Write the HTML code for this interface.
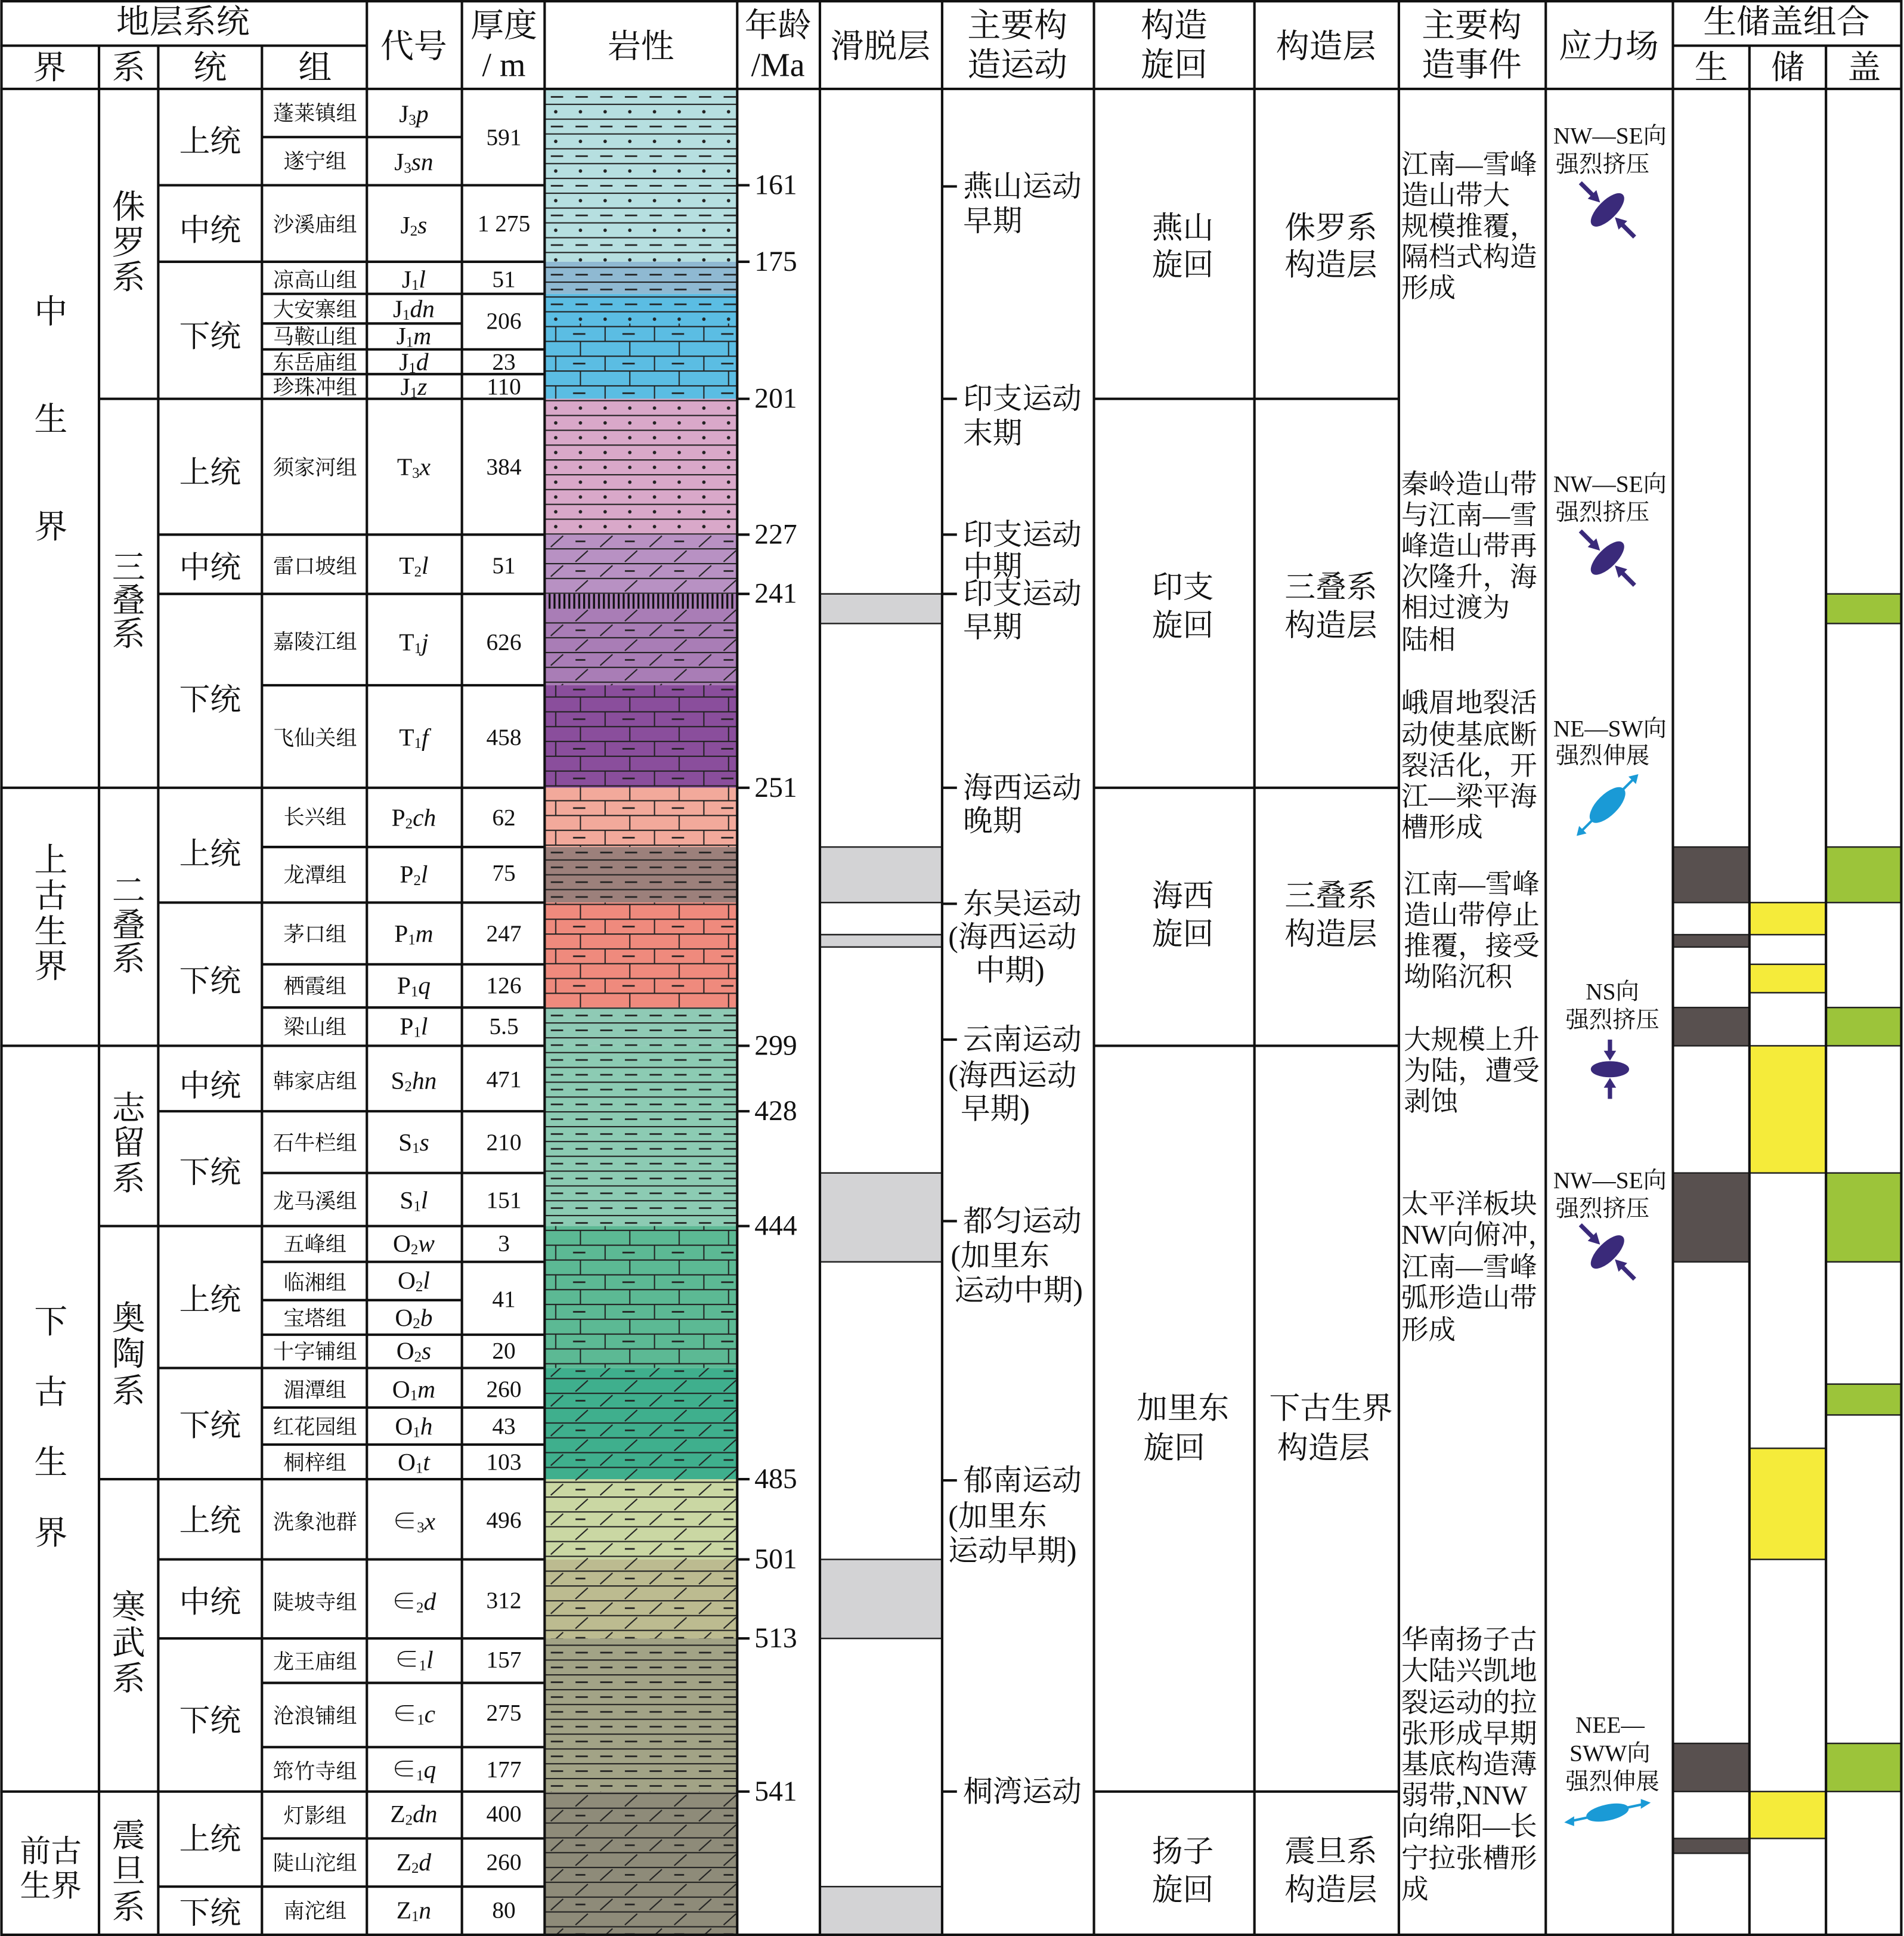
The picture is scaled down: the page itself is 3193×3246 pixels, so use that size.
<!DOCTYPE html>
<html><head><meta charset="utf-8"><style>
html,body{margin:0;padding:0;background:#fff}
svg{display:block}
text{font-family:"Liberation Serif","Noto Serif CJK SC","Noto Sans CJK SC",serif;fill:#111}
.h{font-size:27px;text-anchor:middle;dominant-baseline:central}
.t{font-size:25px;text-anchor:middle;dominant-baseline:central}
.f{font-size:17px;text-anchor:middle;dominant-baseline:central}
.c{font-size:20px;text-anchor:middle;dominant-baseline:central}
.n{font-size:19px;text-anchor:middle;dominant-baseline:central}
.a{font-size:23px;dominant-baseline:central}
.m{font-size:24px;dominant-baseline:central}
.e{font-size:22px;dominant-baseline:central}
.s{font-size:19px;text-anchor:middle;dominant-baseline:central}
.b{font-size:27px;text-anchor:middle;dominant-baseline:central}
</style></head><body>
<svg width="3193" height="3246" viewBox="0 0 1542 1568" xmlns="http://www.w3.org/2000/svg">
<defs>
<pattern id="pDash" width="40" height="12" patternUnits="userSpaceOnUse"><line x1="0" y1="0.5" x2="40" y2="0.5" stroke="#222" stroke-width="1"/><line x1="6" y1="6.5" x2="16" y2="6.5" stroke="#222" stroke-width="1.3"/><line x1="26" y1="6.5" x2="36" y2="6.5" stroke="#222" stroke-width="1.3"/></pattern>
<pattern id="pDot" width="40" height="12" patternUnits="userSpaceOnUse"><line x1="0" y1="0.5" x2="40" y2="0.5" stroke="#222" stroke-width="1"/><circle cx="10" cy="6.5" r="1.4" fill="#222"/><circle cx="30" cy="6.5" r="1.4" fill="#222"/></pattern>
<pattern id="pDashDot" width="40" height="24" patternUnits="userSpaceOnUse"><line x1="0" y1="0.5" x2="40" y2="0.5" stroke="#222"/><line x1="0" y1="12.5" x2="40" y2="12.5" stroke="#222"/><line x1="6" y1="6.5" x2="16" y2="6.5" stroke="#222" stroke-width="1.3"/><line x1="26" y1="6.5" x2="36" y2="6.5" stroke="#222" stroke-width="1.3"/><circle cx="10" cy="18.5" r="1.4" fill="#222"/><circle cx="30" cy="18.5" r="1.4" fill="#222"/></pattern>
<pattern id="pBrick" width="40" height="24" patternUnits="userSpaceOnUse"><line x1="0" y1="0.5" x2="40" y2="0.5" stroke="#222"/><line x1="0" y1="12.5" x2="40" y2="12.5" stroke="#222"/><line x1="10" y1="0" x2="10" y2="12" stroke="#222"/><line x1="30" y1="12" x2="30" y2="24" stroke="#222"/><line x1="24" y1="6.5" x2="34" y2="6.5" stroke="#222" stroke-width="1.3"/></pattern>
<pattern id="pDolo" width="40" height="24" patternUnits="userSpaceOnUse"><line x1="0" y1="0.5" x2="40" y2="0.5" stroke="#222"/><line x1="0" y1="12.5" x2="40" y2="12.5" stroke="#222"/><line x1="6" y1="11" x2="16" y2="2" stroke="#222"/><line x1="26" y1="23" x2="36" y2="14" stroke="#222"/><line x1="26" y1="6.5" x2="34" y2="6.5" stroke="#222" stroke-width="1.3"/></pattern>
<pattern id="pHatch" width="4" height="12" patternUnits="userSpaceOnUse"><line x1="1" y1="0" x2="1" y2="12" stroke="#111" stroke-width="1.6"/></pattern>
</defs>
<rect width="1542" height="1568" fill="#fff"/>

<g>
<rect x="441" y="72" width="156" height="140" fill="#b6dfe0"/><rect x="441" y="72" width="156" height="140" fill="url(#pDashDot)"/>
<rect x="441" y="212" width="156" height="26" fill="#8fb9d2"/><rect x="441" y="212" width="156" height="26" fill="url(#pDash)"/>
<rect x="441" y="238" width="156" height="85" fill="#5bbde3"/><rect x="441" y="238" width="156" height="24" fill="url(#pDashDot)"/><rect x="441" y="262" width="156" height="61" fill="url(#pBrick)"/>
<rect x="441" y="323" width="156" height="110" fill="#d9a8c9"/><rect x="441" y="323" width="156" height="110" fill="url(#pDot)"/>
<rect x="441" y="433" width="156" height="48" fill="#b891c3"/><rect x="441" y="433" width="156" height="48" fill="url(#pDolo)"/>
<rect x="441" y="481" width="156" height="12" fill="#a97db6"/><rect x="441" y="481" width="156" height="12" fill="url(#pHatch)"/>
<rect x="441" y="493" width="156" height="62" fill="#a97db6"/><rect x="441" y="493" width="156" height="62" fill="url(#pDolo)"/>
<rect x="441" y="555" width="156" height="83" fill="#8a4e9c"/><rect x="441" y="555" width="156" height="83" fill="url(#pBrick)"/>
<rect x="441" y="638" width="156" height="48" fill="#f2a99b"/><rect x="441" y="638" width="156" height="48" fill="url(#pBrick)"/>
<rect x="441" y="686" width="156" height="45" fill="#9c807b"/><rect x="441" y="686" width="156" height="45" fill="url(#pDash)"/>
<rect x="441" y="731" width="156" height="85" fill="#ef8a7d"/><rect x="441" y="731" width="156" height="85" fill="url(#pBrick)"/>
<rect x="441" y="816" width="156" height="31" fill="#8fcab5"/><rect x="441" y="816" width="156" height="31" fill="url(#pDash)"/>
<rect x="441" y="847" width="156" height="146" fill="#8ccbb3"/><rect x="441" y="847" width="156" height="146" fill="url(#pDash)"/>
<rect x="441" y="993" width="156" height="115" fill="#5cb994"/><rect x="441" y="993" width="156" height="115" fill="url(#pBrick)"/>
<rect x="441" y="1108" width="156" height="90" fill="#3faf8d"/><rect x="441" y="1108" width="156" height="90" fill="url(#pDolo)"/>
<rect x="441" y="1198" width="156" height="65" fill="#cad7a3"/><rect x="441" y="1198" width="156" height="65" fill="url(#pDolo)"/>
<rect x="441" y="1263" width="156" height="64" fill="#bcbb90"/><rect x="441" y="1263" width="156" height="64" fill="url(#pDolo)"/>
<rect x="441" y="1327" width="156" height="124" fill="#a2a386"/><rect x="441" y="1327" width="156" height="124" fill="url(#pDash)"/>
<rect x="441" y="1451" width="156" height="117" fill="#8e8b79"/><rect x="441" y="1451" width="156" height="117" fill="url(#pDolo)"/>
</g>

<g fill="#d3d3d5" stroke="#222" stroke-width="1.2">
<rect x="664" y="481" width="99" height="24"/>
<rect x="664" y="686" width="99" height="45"/>
<rect x="664" y="731" width="99" height="26" fill="#fff"/>
<rect x="664" y="757" width="99" height="10"/>
<rect x="664" y="950" width="99" height="72"/>
<rect x="664" y="1263" width="99" height="64"/>
<rect x="664" y="1528" width="99" height="40"/>
</g>

<g stroke="#222" stroke-width="1.2">
<g fill="#58504f">
<rect x="1355" y="686" width="62" height="45"/><rect x="1355" y="757" width="62" height="10"/><rect x="1355" y="816" width="62" height="31"/><rect x="1355" y="950" width="62" height="72"/><rect x="1355" y="1412" width="62" height="39"/><rect x="1355" y="1489" width="62" height="12"/>
</g>
<g fill="#f5eb3a">
<rect x="1417" y="731" width="62" height="26"/><rect x="1417" y="781" width="62" height="23"/><rect x="1417" y="847" width="62" height="103"/><rect x="1417" y="1173" width="62" height="90"/><rect x="1417" y="1451" width="62" height="38"/>
</g>
<g fill="#9cc43a">
<rect x="1479" y="481" width="61" height="24"/><rect x="1479" y="686" width="61" height="45"/><rect x="1479" y="816" width="61" height="31"/><rect x="1479" y="950" width="61" height="72"/><rect x="1479" y="1121" width="61" height="25"/><rect x="1479" y="1412" width="61" height="39"/>
</g>
</g>

<g stroke="#111" stroke-width="2" fill="none">
<rect x="1" y="1" width="1539" height="1566"/>
<line x1="0" y1="37" x2="297" y2="37"/><line x1="1355" y1="37" x2="1540" y2="37"/>
<line x1="0" y1="72" x2="1540" y2="72"/>
<line x1="80" y1="37" x2="80" y2="1568"/><line x1="128" y1="37" x2="128" y2="1568"/><line x1="212" y1="37" x2="212" y2="1568"/>
<line x1="297" y1="0" x2="297" y2="1568"/><line x1="374" y1="0" x2="374" y2="1568"/><line x1="441" y1="0" x2="441" y2="1568"/>
<line x1="597" y1="0" x2="597" y2="1568"/><line x1="664" y1="0" x2="664" y2="1568"/><line x1="763" y1="0" x2="763" y2="1568"/>
<line x1="886" y1="0" x2="886" y2="1568"/><line x1="1016" y1="0" x2="1016" y2="1568"/><line x1="1133" y1="0" x2="1133" y2="1568"/>
<line x1="1252" y1="0" x2="1252" y2="1568"/><line x1="1355" y1="0" x2="1355" y2="1568"/>
<line x1="1417" y1="37" x2="1417" y2="1568"/><line x1="1479" y1="37" x2="1479" y2="1568"/>
<line x1="0" y1="638" x2="80" y2="638"/><line x1="0" y1="847" x2="80" y2="847"/><line x1="0" y1="1451" x2="80" y2="1451"/>
<line x1="80" y1="323" x2="128" y2="323"/><line x1="80" y1="638" x2="128" y2="638"/><line x1="80" y1="847" x2="128" y2="847"/><line x1="80" y1="993" x2="128" y2="993"/><line x1="80" y1="1198" x2="128" y2="1198"/><line x1="80" y1="1451" x2="128" y2="1451"/>
<path d="M128 150H212M128 212H212M128 323H212M128 433H212M128 481H212M128 638H212M128 731H212M128 847H212M128 900H212M128 993H212M128 1108H212M128 1198H212M128 1263H212M128 1327H212M128 1451H212M128 1528H212"/>
<path d="M212 111H374M212 150H441M212 212H441M212 238H441M212 262H374M212 283H441M212 303H441M212 323H441M212 433H441M212 481H441M212 555H441M212 638H441M212 686H441M212 731H441M212 781H441M212 816H441M212 847H441M212 900H441M212 950H441M212 993H441M212 1022H441M212 1053H374M212 1081H441M212 1108H441M212 1140H441M212 1170H441M212 1198H441M212 1263H441M212 1327H441M212 1363H441M212 1415H441M212 1451H441M212 1489H441M212 1528H441"/>
<path d="M886 323H1133M886 638H1133M886 847H1133M886 1451H1133"/>
</g>
<g stroke="#111" stroke-width="2">
<path d="M597 150H607M597 212H607M597 323H607M597 433H607M597 481H607M597 638H607M597 847H607M597 900H607M597 993H607M597 1198H607M597 1263H607M597 1327H607M597 1451H607"/>
<path d="M763 151H775M763 323H775M763 433H775M763 481H775M763 638H775M763 732H775M763 842H775M763 989H775M763 1199H775M763 1451H775"/>
</g>

<text class="h" x="148" y="18">地层系统</text>
<text class="h" x="40" y="55">界</text><text class="h" x="104" y="55">系</text><text class="h" x="170" y="55">统</text><text class="h" x="255" y="55">组</text>
<text class="h" x="335" y="38">代号</text>
<text class="h" x="408" y="21">厚度</text><text class="h" x="408" y="53">/ m</text>
<text class="h" x="519" y="38">岩性</text>
<text class="h" x="630" y="21">年龄</text><text class="h" x="630" y="53">/Ma</text>
<text class="h" x="713" y="38">滑脱层</text>
<text class="h" x="824" y="21">主要构</text><text class="h" x="824" y="53">造运动</text>
<text class="h" x="951" y="21">构造</text><text class="h" x="951" y="53">旋回</text>
<text class="h" x="1074" y="38">构造层</text>
<text class="h" x="1192" y="21">主要构</text><text class="h" x="1192" y="53">造事件</text>
<text class="h" x="1303" y="38">应力场</text>
<text class="h" x="1447" y="18">生储盖组合</text>
<text class="h" x="1386" y="55">生</text><text class="h" x="1448" y="55">储</text><text class="h" x="1510" y="55">盖</text>

<text class="b" x="41" y="253">中</text><text class="b" x="41" y="340">生</text><text class="b" x="41" y="427">界</text>
<text class="b" x="41" y="697">上</text><text class="b" x="41" y="726">古</text><text class="b" x="41" y="755">生</text><text class="b" x="41" y="783">界</text>
<text class="b" x="41" y="1071">下</text><text class="b" x="41" y="1128">古</text><text class="b" x="41" y="1185">生</text><text class="b" x="41" y="1242">界</text>
<text class="t" x="41" y="1500">前古</text><text class="t" x="41" y="1528">生界</text>
<text class="b" x="104" y="168">侏</text><text class="b" x="104" y="197">罗</text><text class="b" x="104" y="225">系</text>
<text class="b" x="104" y="460">三</text><text class="b" x="104" y="487">叠</text><text class="b" x="104" y="514">系</text>
<text class="b" x="104" y="722">二</text><text class="b" x="104" y="750">叠</text><text class="b" x="104" y="777">系</text>
<text class="b" x="104" y="898">志</text><text class="b" x="104" y="926">留</text><text class="b" x="104" y="955">系</text>
<text class="b" x="104" y="1068">奥</text><text class="b" x="104" y="1097">陶</text><text class="b" x="104" y="1127">系</text>
<text class="b" x="104" y="1302">寒</text><text class="b" x="104" y="1331">武</text><text class="b" x="104" y="1360">系</text>
<text class="b" x="104" y="1487">震</text><text class="b" x="104" y="1516">旦</text><text class="b" x="104" y="1545">系</text>
<text class="t" x="170" y="115">上统</text><text class="t" x="170" y="187">中统</text><text class="t" x="170" y="273">下统</text>
<text class="t" x="170" y="383">上统</text><text class="t" x="170" y="460">中统</text><text class="t" x="170" y="567">下统</text>
<text class="t" x="170" y="692">上统</text><text class="t" x="170" y="795">下统</text>
<text class="t" x="170" y="880">中统</text><text class="t" x="170" y="950">下统</text>
<text class="t" x="170" y="1053">上统</text><text class="t" x="170" y="1155">下统</text>
<text class="t" x="170" y="1232">上统</text><text class="t" x="170" y="1298">中统</text><text class="t" x="170" y="1394">下统</text>
<text class="t" x="170" y="1490">上统</text><text class="t" x="170" y="1550">下统</text>

<text class="f" x="255" y="92">蓬莱镇组</text><text class="f" x="255" y="131">遂宁组</text><text class="f" x="255" y="182">沙溪庙组</text>
<text class="f" x="255" y="227">凉高山组</text><text class="f" x="255" y="251">大安寨组</text><text class="f" x="255" y="273">马鞍山组</text>
<text class="f" x="255" y="294">东岳庙组</text><text class="f" x="255" y="314">珍珠冲组</text><text class="f" x="255" y="379">须家河组</text>
<text class="f" x="255" y="459">雷口坡组</text><text class="f" x="255" y="520">嘉陵江组</text><text class="f" x="255" y="598">飞仙关组</text>
<text class="f" x="255" y="662">长兴组</text><text class="f" x="255" y="709">龙潭组</text><text class="f" x="255" y="757">茅口组</text>
<text class="f" x="255" y="799">栖霞组</text><text class="f" x="255" y="832">梁山组</text><text class="f" x="255" y="876">韩家店组</text>
<text class="f" x="255" y="926">石牛栏组</text><text class="f" x="255" y="973">龙马溪组</text><text class="f" x="255" y="1008">五峰组</text>
<text class="f" x="255" y="1039">临湘组</text><text class="f" x="255" y="1068">宝塔组</text><text class="f" x="255" y="1095">十字铺组</text>
<text class="f" x="255" y="1126">湄潭组</text><text class="f" x="255" y="1156">红花园组</text><text class="f" x="255" y="1185">桐梓组</text>
<text class="f" x="255" y="1233">洗象池群</text><text class="f" x="255" y="1298">陡坡寺组</text><text class="f" x="255" y="1346">龙王庙组</text>
<text class="f" x="255" y="1390">沧浪铺组</text><text class="f" x="255" y="1435">筇竹寺组</text><text class="f" x="255" y="1471">灯影组</text>
<text class="f" x="255" y="1509">陡山沱组</text><text class="f" x="255" y="1548">南沱组</text>

<g>
<text class="c" x="335" y="92">J<tspan font-size="12" dy="5">3</tspan><tspan dy="-5" font-style="italic">p</tspan></text>
<text class="c" x="335" y="131">J<tspan font-size="12" dy="5">3</tspan><tspan dy="-5" font-style="italic">sn</tspan></text>
<text class="c" x="335" y="182">J<tspan font-size="12" dy="5">2</tspan><tspan dy="-5" font-style="italic">s</tspan></text>
<text class="c" x="335" y="226">J<tspan font-size="12" dy="5">1</tspan><tspan dy="-5" font-style="italic">l</tspan></text>
<text class="c" x="335" y="250">J<tspan font-size="12" dy="5">1</tspan><tspan dy="-5" font-style="italic">dn</tspan></text>
<text class="c" x="335" y="272">J<tspan font-size="12" dy="5">1</tspan><tspan dy="-5" font-style="italic">m</tspan></text>
<text class="c" x="335" y="293">J<tspan font-size="12" dy="5">1</tspan><tspan dy="-5" font-style="italic">d</tspan></text>
<text class="c" x="335" y="313">J<tspan font-size="12" dy="5">1</tspan><tspan dy="-5" font-style="italic">z</tspan></text>
<text class="c" x="335" y="378">T<tspan font-size="12" dy="5">3</tspan><tspan dy="-5" font-style="italic">x</tspan></text>
<text class="c" x="335" y="458">T<tspan font-size="12" dy="5">2</tspan><tspan dy="-5" font-style="italic">l</tspan></text>
<text class="c" x="335" y="520">T<tspan font-size="12" dy="5">1</tspan><tspan dy="-5" font-style="italic">j</tspan></text>
<text class="c" x="335" y="597">T<tspan font-size="12" dy="5">1</tspan><tspan dy="-5" font-style="italic">f</tspan></text>
<text class="c" x="335" y="662">P<tspan font-size="12" dy="5">2</tspan><tspan dy="-5" font-style="italic">ch</tspan></text>
<text class="c" x="335" y="708">P<tspan font-size="12" dy="5">2</tspan><tspan dy="-5" font-style="italic">l</tspan></text>
<text class="c" x="335" y="756">P<tspan font-size="12" dy="5">1</tspan><tspan dy="-5" font-style="italic">m</tspan></text>
<text class="c" x="335" y="798">P<tspan font-size="12" dy="5">1</tspan><tspan dy="-5" font-style="italic">q</tspan></text>
<text class="c" x="335" y="831">P<tspan font-size="12" dy="5">1</tspan><tspan dy="-5" font-style="italic">l</tspan></text>
<text class="c" x="335" y="875">S<tspan font-size="12" dy="5">2</tspan><tspan dy="-5" font-style="italic">hn</tspan></text>
<text class="c" x="335" y="925">S<tspan font-size="12" dy="5">1</tspan><tspan dy="-5" font-style="italic">s</tspan></text>
<text class="c" x="335" y="972">S<tspan font-size="12" dy="5">1</tspan><tspan dy="-5" font-style="italic">l</tspan></text>
<text class="c" x="335" y="1007">O<tspan font-size="12" dy="5">2</tspan><tspan dy="-5" font-style="italic">w</tspan></text>
<text class="c" x="335" y="1037">O<tspan font-size="12" dy="5">2</tspan><tspan dy="-5" font-style="italic">l</tspan></text>
<text class="c" x="335" y="1067">O<tspan font-size="12" dy="5">2</tspan><tspan dy="-5" font-style="italic">b</tspan></text>
<text class="c" x="335" y="1094">O<tspan font-size="12" dy="5">2</tspan><tspan dy="-5" font-style="italic">s</tspan></text>
<text class="c" x="335" y="1125">O<tspan font-size="12" dy="5">1</tspan><tspan dy="-5" font-style="italic">m</tspan></text>
<text class="c" x="335" y="1155">O<tspan font-size="12" dy="5">1</tspan><tspan dy="-5" font-style="italic">h</tspan></text>
<text class="c" x="335" y="1184">O<tspan font-size="12" dy="5">1</tspan><tspan dy="-5" font-style="italic">t</tspan></text>
<text class="c" x="335" y="1232">∈<tspan font-size="12" dy="5">3</tspan><tspan dy="-5" font-style="italic">x</tspan></text>
<text class="c" x="335" y="1297">∈<tspan font-size="12" dy="5">2</tspan><tspan dy="-5" font-style="italic">d</tspan></text>
<text class="c" x="335" y="1344">∈<tspan font-size="12" dy="5">1</tspan><tspan dy="-5" font-style="italic">l</tspan></text>
<text class="c" x="335" y="1388">∈<tspan font-size="12" dy="5">1</tspan><tspan dy="-5" font-style="italic">c</tspan></text>
<text class="c" x="335" y="1433">∈<tspan font-size="12" dy="5">1</tspan><tspan dy="-5" font-style="italic">q</tspan></text>
<text class="c" x="335" y="1469">Z<tspan font-size="12" dy="5">2</tspan><tspan dy="-5" font-style="italic">dn</tspan></text>
<text class="c" x="335" y="1508">Z<tspan font-size="12" dy="5">2</tspan><tspan dy="-5" font-style="italic">d</tspan></text>
<text class="c" x="335" y="1547">Z<tspan font-size="12" dy="5">1</tspan><tspan dy="-5" font-style="italic">n</tspan></text>
</g>

<text class="n" x="408" y="111">591</text><text class="n" x="408" y="181">1 275</text><text class="n" x="408" y="226">51</text>
<text class="n" x="408" y="260">206</text><text class="n" x="408" y="293">23</text><text class="n" x="408" y="313">110</text>
<text class="n" x="408" y="378">384</text><text class="n" x="408" y="458">51</text><text class="n" x="408" y="520">626</text>
<text class="n" x="408" y="597">458</text><text class="n" x="408" y="662">62</text><text class="n" x="408" y="707">75</text>
<text class="n" x="408" y="756">247</text><text class="n" x="408" y="798">126</text><text class="n" x="408" y="831">5.5</text>
<text class="n" x="408" y="874">471</text><text class="n" x="408" y="925">210</text><text class="n" x="408" y="972">151</text>
<text class="n" x="408" y="1007">3</text><text class="n" x="408" y="1052">41</text><text class="n" x="408" y="1094">20</text>
<text class="n" x="408" y="1125">260</text><text class="n" x="408" y="1155">43</text><text class="n" x="408" y="1184">103</text>
<text class="n" x="408" y="1231">496</text><text class="n" x="408" y="1296">312</text><text class="n" x="408" y="1344">157</text>
<text class="n" x="408" y="1387">275</text><text class="n" x="408" y="1433">177</text><text class="n" x="408" y="1469">400</text>
<text class="n" x="408" y="1508">260</text><text class="n" x="408" y="1547">80</text>

<text class="a" x="611" y="150">161</text><text class="a" x="611" y="212">175</text><text class="a" x="611" y="323">201</text>
<text class="a" x="611" y="433">227</text><text class="a" x="611" y="481">241</text><text class="a" x="611" y="638">251</text>
<text class="a" x="611" y="847">299</text><text class="a" x="611" y="900">428</text><text class="a" x="611" y="993">444</text>
<text class="a" x="611" y="1198">485</text><text class="a" x="611" y="1263">501</text><text class="a" x="611" y="1327">513</text>
<text class="a" x="611" y="1451">541</text>

<text class="m" x="780" y="151">燕山运动</text><text class="m" x="780" y="179">早期</text>
<text class="m" x="780" y="323">印支运动</text><text class="m" x="780" y="351">末期</text>
<text class="m" x="780" y="433">印支运动</text><text class="m" x="780" y="459">中期</text>
<text class="m" x="780" y="481">印支运动</text><text class="m" x="780" y="508">早期</text>
<text class="m" x="780" y="638">海西运动</text><text class="m" x="780" y="665">晚期</text>
<text class="m" x="780" y="732">东吴运动</text><text class="m" x="768" y="759">(海西运动</text><text class="m" x="790" y="786">中期)</text>
<text class="m" x="780" y="842">云南运动</text><text class="m" x="768" y="871">(海西运动</text><text class="m" x="778" y="898">早期)</text>
<text class="m" x="780" y="989">都匀运动</text><text class="m" x="770" y="1017">(加里东</text><text class="m" x="773" y="1045">运动中期)</text>
<text class="m" x="780" y="1199">郁南运动</text><text class="m" x="768" y="1228">(加里东</text><text class="m" x="768" y="1256">运动早期)</text>
<text class="m" x="780" y="1451">桐湾运动</text>

<text class="t" x="958" y="185">燕山</text><text class="t" x="958" y="215">旋回</text>
<text class="t" x="958" y="476">印支</text><text class="t" x="958" y="507">旋回</text>
<text class="t" x="958" y="726">海西</text><text class="t" x="958" y="757">旋回</text>
<text class="t" x="958" y="1141">加里东</text><text class="t" x="951" y="1173">旋回</text>
<text class="t" x="958" y="1500">扬子</text><text class="t" x="958" y="1531">旋回</text>
<text class="t" x="1078" y="185">侏罗系</text><text class="t" x="1078" y="215">构造层</text>
<text class="t" x="1078" y="476">三叠系</text><text class="t" x="1078" y="507">构造层</text>
<text class="t" x="1078" y="726">三叠系</text><text class="t" x="1078" y="757">构造层</text>
<text class="t" x="1078" y="1141">下古生界</text><text class="t" x="1072" y="1173">构造层</text>
<text class="t" x="1078" y="1500">震旦系</text><text class="t" x="1078" y="1531">构造层</text>

<g>
<text class="e" x="1135" y="133">江南—雪峰</text><text class="e" x="1135" y="158">造山带大</text><text class="e" x="1135" y="183">规模推覆，</text><text class="e" x="1135" y="208">隔档式构造</text><text class="e" x="1135" y="233">形成</text>
<text class="e" x="1135" y="392">秦岭造山带</text><text class="e" x="1135" y="417">与江南—雪</text><text class="e" x="1135" y="442">峰造山带再</text><text class="e" x="1135" y="467">次隆升，海</text><text class="e" x="1135" y="492">相过渡为</text><text class="e" x="1135" y="518">陆相</text>
<text class="e" x="1135" y="569">峨眉地裂活</text><text class="e" x="1135" y="595">动使基底断</text><text class="e" x="1135" y="620">裂活化，开</text><text class="e" x="1135" y="645">江—梁平海</text><text class="e" x="1135" y="670">槽形成</text>
<text class="e" x="1137" y="716">江南—雪峰</text><text class="e" x="1137" y="741">造山带停止</text><text class="e" x="1137" y="766">推覆，接受</text><text class="e" x="1137" y="791">坳陷沉积</text>
<text class="e" x="1137" y="842">大规模上升</text><text class="e" x="1137" y="867">为陆，遭受</text><text class="e" x="1137" y="892">剥蚀</text>
<text class="e" x="1135" y="975">太平洋板块</text><text class="e" x="1135" y="1000">NW向俯冲，</text><text class="e" x="1135" y="1026">江南—雪峰</text><text class="e" x="1135" y="1051">弧形造山带</text><text class="e" x="1135" y="1077">形成</text>
<text class="e" x="1135" y="1328">华南扬子古</text><text class="e" x="1135" y="1353">大陆兴凯地</text><text class="e" x="1135" y="1379">裂运动的拉</text><text class="e" x="1135" y="1404">张形成早期</text><text class="e" x="1135" y="1429">基底构造薄</text><text class="e" x="1135" y="1454">弱带,NNW</text><text class="e" x="1135" y="1479">向绵阳—长</text><text class="e" x="1135" y="1505">宁拉张槽形</text><text class="e" x="1135" y="1530">成</text>
</g>

<text class="s" x="1304" y="110">NW—SE向</text><text class="s" x="1298" y="133">强烈挤压</text>
<text class="s" x="1304" y="392">NW—SE向</text><text class="s" x="1298" y="415">强烈挤压</text>
<text class="s" x="1304" y="590">NE—SW向</text><text class="s" x="1298" y="612">强烈伸展</text>
<text class="s" x="1306" y="803">NS向</text><text class="s" x="1306" y="826">强烈挤压</text>
<text class="s" x="1304" y="956">NW—SE向</text><text class="s" x="1298" y="979">强烈挤压</text>
<text class="s" x="1304" y="1397">NEE—</text><text class="s" x="1304" y="1420">SWW向</text><text class="s" x="1306" y="1443">强烈伸展</text>

<g fill="#3a2a7a" stroke="#3a2a7a">
<g transform="translate(1302,170)"><ellipse rx="17" ry="7" transform="rotate(-45)"/><line x1="-22" y1="-22" x2="-11" y2="-11" stroke-width="3.5"/><polygon points="-6,-6 -16,-9 -9,-16" stroke="none"/><line x1="22" y1="22" x2="11" y2="11" stroke-width="3.5"/><polygon points="6,6 16,9 9,16" stroke="none"/></g>
<g transform="translate(1302,452)"><ellipse rx="17" ry="7" transform="rotate(-45)"/><line x1="-22" y1="-22" x2="-11" y2="-11" stroke-width="3.5"/><polygon points="-6,-6 -16,-9 -9,-16" stroke="none"/><line x1="22" y1="22" x2="11" y2="11" stroke-width="3.5"/><polygon points="6,6 16,9 9,16" stroke="none"/></g>
<g transform="translate(1302,1014)"><ellipse rx="17" ry="7" transform="rotate(-45)"/><line x1="-22" y1="-22" x2="-11" y2="-11" stroke-width="3.5"/><polygon points="-6,-6 -16,-9 -9,-16" stroke="none"/><line x1="22" y1="22" x2="11" y2="11" stroke-width="3.5"/><polygon points="6,6 16,9 9,16" stroke="none"/></g>
<g transform="translate(1304,866)"><ellipse rx="15" ry="6"/><line x1="0" y1="-24" x2="0" y2="-13" stroke-width="3.5"/><polygon points="0,-7 -5,-15 5,-15" stroke="none"/><line x1="0" y1="24" x2="0" y2="13" stroke-width="3.5"/><polygon points="0,7 -5,15 5,15" stroke="none"/></g>
</g>
<g fill="#1a9ad6" stroke="#1a9ad6">
<g transform="translate(1302,652)"><ellipse rx="18" ry="8" transform="rotate(-45)"/><line x1="-12" y1="12" x2="-22" y2="22" stroke-width="2"/><polygon points="-25,25 -17,23 -23,17" stroke="none"/><line x1="12" y1="-12" x2="22" y2="-22" stroke-width="2"/><polygon points="25,-25 17,-23 23,-17" stroke="none"/></g>
<g transform="translate(1302,1468)"><ellipse rx="17" ry="6" transform="rotate(-12)"/><line x1="-16" y1="4" x2="-30" y2="7" stroke-width="2"/><polygon points="-35,8 -27,3 -27,11" stroke="none"/><line x1="16" y1="-4" x2="30" y2="-7" stroke-width="2"/><polygon points="35,-8 27,-3 27,-11" stroke="none"/></g>
</g>
</svg>
</body></html>
